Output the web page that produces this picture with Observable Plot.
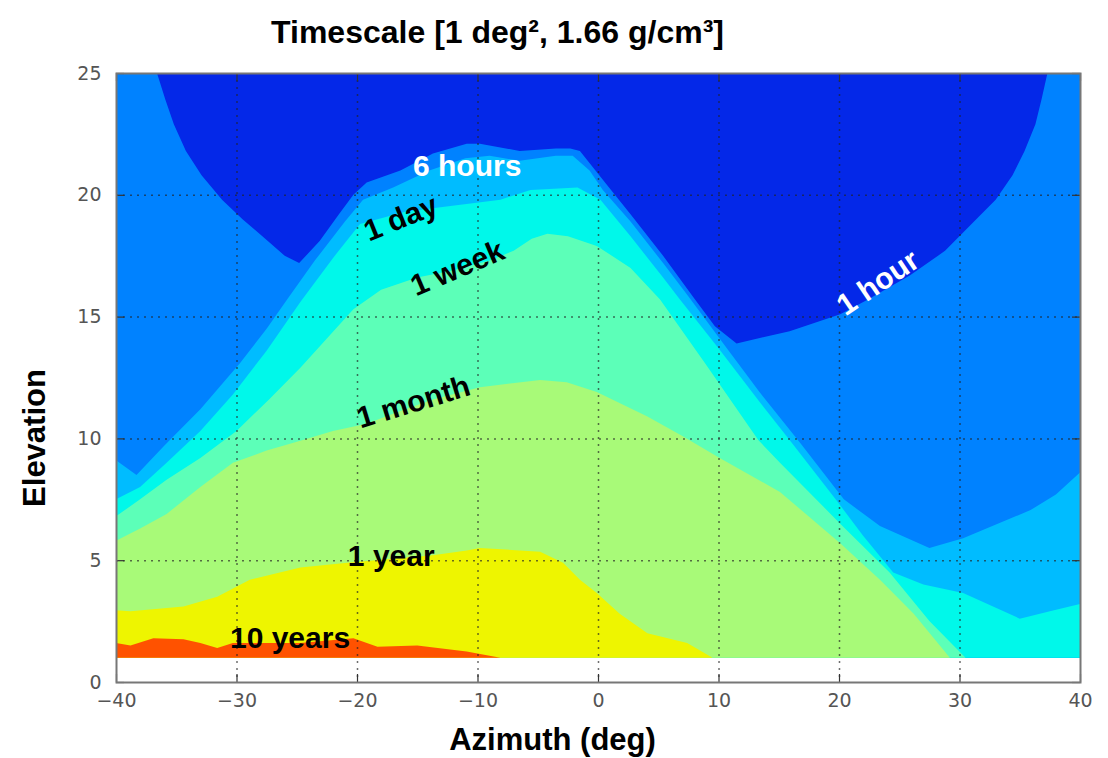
<!DOCTYPE html>
<html>
<head>
<meta charset="utf-8">
<script src="https://cdn.jsdelivr.net/npm/d3@7"></script>
<script src="https://cdn.jsdelivr.net/npm/@observablehq/plot@0.6"></script>
<style>
  html, body { margin: 0; padding: 0; background: #fff; }
  #chart svg { display: block; }
</style>
</head>
<body>
<div id="chart"></div>
<script>
// ---- data (azimuth deg, elevation deg) ----
const azimuthTicks = [-40, -30, -20, -10, 0, 10, 20, 30, 40];
const elevationTicks = [0, 5, 10, 15, 20, 25];
const floorElevation = 1;

const ceiling = [[-40, 25], [40, 25]];
const oneHour = [[-40,25],[-36.6,25],[-35.9,23.9],[-35.2,22.9],[-34.2,21.8],[-32.9,20.8],[-31.2,19.8],[-29.5,19.0],[-27.4,18.1],[-26,17.5],[-24.8,17.2],[-23.1,18.1],[-21.5,19.2],[-20.3,20.0],[-19.2,20.5],[-16.4,21.0],[-13.7,21.7],[-10.9,22.1],[-9.8,22.1],[-6.5,21.8],[-3.5,21.9],[-2.3,21.9],[-1.5,21.8],[0.75,20.4],[2.7,19.2],[5.4,17.5],[7.9,15.8],[9.7,14.6],[11.5,13.9],[15.9,14.4],[20.1,15.1],[22.4,15.7],[25.9,16.7],[28.8,17.7],[31.0,18.8],[33.0,19.8],[34.4,20.8],[35.4,21.8],[36.3,22.9],[36.8,23.9],[37.3,25],[40,25]];
const sixHours = [[-40,9.1],[-38.3,8.5],[-36,9.7],[-33,11.2],[-29.7,13.1],[-27.5,14.5],[-25.8,15.7],[-23.5,17.3],[-21,18.9],[-19.5,19.8],[-17,20.3],[-14,21.0],[-11,21.5],[-9,21.6],[-6.5,21.4],[-3.5,21.6],[-2.1,21.6],[-0.7,21.0],[0.4,20.2],[2.7,18.9],[5.4,17.2],[7.4,15.9],[11,13.5],[13.4,11.9],[16.8,9.8],[20.4,7.5],[23.4,6.4],[27.5,5.5],[30.3,5.9],[35.9,7.06],[38,7.7],[40,8.6]];
const oneDay = [[-40,7.5],[-38,8.0],[-35.8,9.0],[-33,10.3],[-30.3,11.8],[-27.5,13.6],[-24.7,15.6],[-22,17.4],[-19.75,18.8],[-16,19.3],[-12.9,19.5],[-8.1,19.8],[-5.6,20.2],[-1.7,20.3],[0.2,19.8],[2.7,18.3],[5.4,16.6],[6.8,15.7],[10,13.7],[13.4,11.5],[15.9,9.93],[19.8,7.45],[22,6.0],[24.5,4.5],[27,4.0],[30.3,3.65],[35,2.6],[37.5,2.9],[40,3.2]];
const oneWeek = [[-40,6.8],[-38,7.5],[-35.8,8.3],[-33,9.2],[-30,10.3],[-27.3,11.6],[-24.7,12.9],[-22.5,14.1],[-20.3,15.3],[-18,16.1],[-15,16.6],[-12,16.9],[-9,17.3],[-7,17.7],[-5.5,18.2],[-4.2,18.4],[-2.5,18.3],[-0.1,17.9],[2.7,17.0],[5.15,15.7],[9,13.0],[13.3,9.93],[15.1,9.0],[20.1,6.5],[24.2,4.5],[27.5,2.5],[30.5,1.0],[40,1.0]];
const oneMonth = [[-40,5.8],[-38,6.3],[-35.8,6.9],[-33,8.0],[-30.3,9.0],[-27.5,9.5],[-24.7,9.9],[-22,10.3],[-19.2,10.6],[-16.5,11.1],[-13.7,11.6],[-9.8,12.1],[-4.8,12.4],[-2.6,12.3],[-0.1,11.9],[4.1,10.9],[7,10.1],[10.1,9.2],[15.1,7.8],[20.1,5.7],[23.4,4.2],[26.2,2.8],[29.2,1.0],[40,1.0]];
const oneYear = [[-40,2.95],[-38.8,2.9],[-34.4,3.1],[-31.6,3.5],[-28.9,4.2],[-24.7,4.7],[-20.8,4.9],[-13.7,5.2],[-10.9,5.4],[-9.8,5.5],[-4.8,5.35],[-2.9,4.9],[-1.5,4.2],[-0.1,3.65],[1.8,2.8],[4.1,2.0],[7.4,1.6],[9.5,1.0],[40,1.0]];
const tenYears = [[-40,1.6],[-38.8,1.5],[-36.9,1.8],[-34.4,1.75],[-33,1.6],[-31.6,1.4],[-30.3,1.6],[-24.7,1.6],[-20.3,1.8],[-18.3,1.45],[-15,1.5],[-10.9,1.25],[-8.1,1.0]];

const contourLabelText = ["6 hours", "1 day", "1 week", "1 month", "1 year", "10 years", "1 hour"];
const contourLabelAz   = [-10.9, -16.4, -11.7, -15.35, -17.2, -25.6, 23.2];
const contourLabelEl   = [21.2, 19.05, 17.0, 11.5, 5.17, 1.81, 16.4];

// ---- styles ----
const bandBoundaries = [ceiling, oneHour, sixHours, oneDay, oneWeek, oneMonth, oneYear, tenYears];
const bandColors = ["#0428e8", "#0082ff", "#00bcff", "#00f8ea", "#5cffb8", "#a8fa78", "#eef500", "#ff5200"];
const labelAngles = [0, -22, -23, -17, 0, 0, -34];
const labelColors = ["#fff", "#000", "#000", "#000", "#000", "#000", "#fff"];

const toRows = pts => pts.map(([az, el]) => ({az, el}));
const labels = contourLabelText.map((text, i) => ({
  text, az: contourLabelAz[i], el: contourLabelEl[i], angle: labelAngles[i], color: labelColors[i]
}));

const boldFont = "'Liberation Sans', Arial, Helvetica, sans-serif";
const frameH = 758 - 73 - 76;
const tickLen = 8;

const chart = Plot.plot({
  width: 1108,
  height: 758,
  marginTop: 73,
  marginBottom: 76,
  marginLeft: 116,
  marginRight: 28,
  style: {fontFamily: "'DejaVu Sans', sans-serif", fontSize: "19px", color: "#555", background: "#fff", overflow: "visible"},
  x: {domain: [-40, 40], ticks: azimuthTicks, tickSize: 0, tickPadding: 11, label: null},
  y: {domain: [0, 25], ticks: elevationTicks, tickSize: 0, tickPadding: 15, label: null},
  marks: [
    ...bandBoundaries.map((b, i) => Plot.areaY(toRows(b), {
      x: "az", y1: floorElevation, y2: "el", fill: bandColors[i], curve: "linear"
    })),
    Plot.ruleX(azimuthTicks.filter(d => d > -40 && d < 40), {stroke: "#222", strokeOpacity: 0.65, strokeWidth: 1.5, strokeDasharray: "2,5"}),
    Plot.ruleY(elevationTicks.filter(d => d > 0 && d < 25), {stroke: "#222", strokeOpacity: 0.65, strokeWidth: 1.5, strokeDasharray: "2,5"}),
    Plot.ruleX(azimuthTicks, {insetTop: frameH - tickLen, stroke: "#333", strokeWidth: 1.2}),
    Plot.ruleX(azimuthTicks, {insetBottom: frameH - tickLen, stroke: "#333", strokeWidth: 1.2}),
    Plot.ruleY(elevationTicks, {insetRight: 964 - tickLen, stroke: "#333", strokeWidth: 1.2}),
    Plot.ruleY(elevationTicks, {insetLeft: 964 - tickLen, stroke: "#333", strokeWidth: 1.2}),
    Plot.frame({stroke: "#777", strokeWidth: 2}),
    Plot.text(labels.filter(d => d.color === "#000"), {
      x: "az", y: "el", text: "text", rotate: "angle", fill: "#000",
      fontSize: 30, fontWeight: "bold", fontFamily: boldFont, lineAnchor: "middle"
    }),
    Plot.text(labels.filter(d => d.color === "#fff"), {
      x: "az", y: "el", text: "text", rotate: "angle", fill: "#fff",
      fontSize: 30, fontWeight: "bold", fontFamily: boldFont, lineAnchor: "middle"
    }),
    Plot.text(["Timescale [1 deg², 1.66 g/cm³]"], {
      frameAnchor: "top", dx: -101, dy: -41, fill: "#000", textAnchor: "middle",
      fontSize: 32, fontWeight: "bold", fontFamily: boldFont, lineAnchor: "middle"
    }),
    Plot.text(["Elevation"], {
      frameAnchor: "left", dx: -81, dy: 60, rotate: -90, fill: "#000", textAnchor: "middle",
      fontSize: 31, fontWeight: "bold", fontFamily: boldFont, lineAnchor: "middle"
    }),
    Plot.text(["Azimuth (deg)"], {
      frameAnchor: "bottom", dx: -46, dy: 58, fill: "#000", textAnchor: "middle",
      fontSize: 31, fontWeight: "bold", fontFamily: boldFont, lineAnchor: "middle"
    })
  ]
});
document.getElementById("chart").appendChild(chart);
</script>
</body>
</html>
